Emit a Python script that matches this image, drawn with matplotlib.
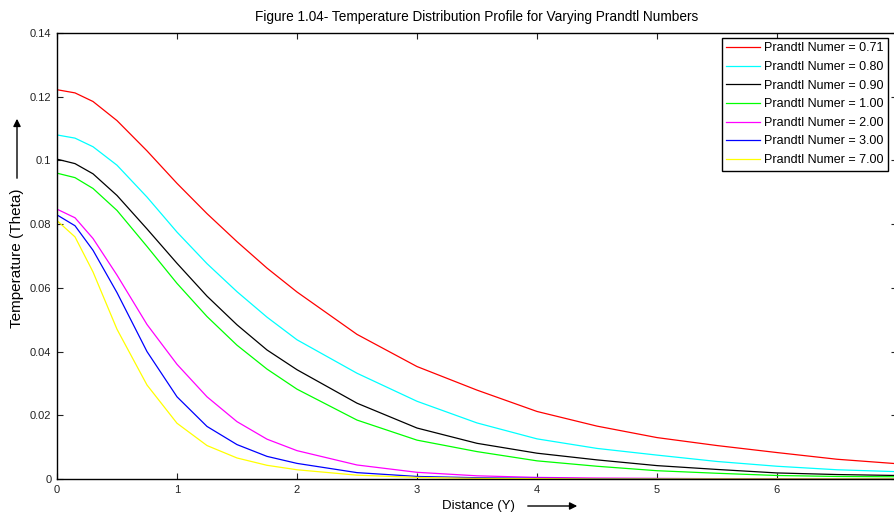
import matplotlib
matplotlib.use("Agg")
import matplotlib.pyplot as plt
from matplotlib.patches import FancyArrowPatch

plt.rcParams['font.family'] = ['Liberation Sans', 'DejaVu Sans']

# distance values (Y)
distance = [0, 0.15, 0.3, 0.5, 0.75, 1.0, 1.25, 1.5, 1.75, 2.0, 2.5, 3.0,
            3.5, 4.0, 4.5, 5.0, 5.5, 6.0, 6.5, 7.0]

# temperature (theta) for each Prandtl number
theta_071 = [0.1222, 0.1212, 0.1185, 0.1125, 0.1030, 0.0928, 0.0833, 0.0745,
             0.0662, 0.0587, 0.0454, 0.0353, 0.0279, 0.0212, 0.0166, 0.0130,
             0.0105, 0.0083, 0.0062, 0.0048]
theta_080 = [0.1080, 0.1070, 0.1043, 0.0985, 0.0885, 0.0775, 0.0676, 0.0588,
             0.0508, 0.0437, 0.0332, 0.0244, 0.0176, 0.0126, 0.0096, 0.0075,
             0.0055, 0.0040, 0.0029, 0.0023]
theta_090 = [0.1004, 0.0990, 0.0958, 0.0890, 0.0785, 0.0677, 0.0574, 0.0484,
             0.0405, 0.0343, 0.0238, 0.0160, 0.0112, 0.0081, 0.0060, 0.0042,
             0.0030, 0.0019, 0.0014, 0.0011]
theta_100 = [0.0960, 0.0946, 0.0912, 0.0843, 0.0730, 0.0614, 0.0510, 0.0420,
             0.0345, 0.0282, 0.0185, 0.0122, 0.0086, 0.0057, 0.0040, 0.0026,
             0.0018, 0.0011, 0.0008, 0.0007]
theta_200 = [0.0847, 0.0820, 0.0755, 0.0640, 0.0485, 0.0360, 0.0258, 0.0180,
             0.0125, 0.0089, 0.0044, 0.0021, 0.0010, 0.0005, 0.0003, 0.0002,
             0.0001, 0.0001, 0.0000, 0.0000]
theta_300 = [0.0829, 0.0795, 0.0718, 0.0585, 0.0400, 0.0258, 0.0165, 0.0108,
             0.0071, 0.0049, 0.0020, 0.0008, 0.0004, 0.0002, 0.0001, 0.0001,
             0.0000, 0.0000, 0.0000, 0.0000]
theta_700 = [0.0811, 0.0760, 0.0650, 0.0470, 0.0295, 0.0175, 0.0105, 0.0066,
             0.0043, 0.0029, 0.0012, 0.0005, 0.0002, 0.0001, 0.0000, 0.0000,
             0.0000, 0.0000, 0.0000, 0.0000]

prandtl = ['0.71', '0.80', '0.90', '1.00', '2.00', '3.00', '7.00']
series = [theta_071, theta_080, theta_090, theta_100, theta_200, theta_300, theta_700]
colors = ['#ff0000', '#00ffff', '#000000', '#00ff00', '#ff00ff', '#0000ff', '#ffff00']

y_ticks = [0, 0.02, 0.04, 0.06, 0.08, 0.1, 0.12, 0.14]
y_tick_labels = ['0', '0.02', '0.04', '0.06', '0.08', '0.1', '0.12', '0.14']
x_ticks = [0, 1, 2, 3, 4, 5, 6]

fig = plt.figure(figsize=(8.94, 5.15), dpi=100)
ax = fig.add_axes([57 / 894, 36 / 515, 840 / 894, 446 / 515])

for pr, theta, c in zip(prandtl, series, colors):
    ax.plot(distance, theta, color=c, linewidth=0.9, label='Prandtl Numer = ' + pr)

ax.set_xlim(0, 7)
ax.set_ylim(0, 0.14)
ax.set_xticks(x_ticks)
ax.set_xticklabels([str(t) for t in x_ticks])
ax.set_yticks(y_ticks)
ax.set_yticklabels(y_tick_labels)
ax.tick_params(direction='in', length=4, width=0.8, top=True, right=True,
               labelsize=8, colors='#222222', pad=4)
for s in ax.spines.values():
    s.set_linewidth(1.0)

fig.text(477 / 894, 1 - 17 / 515,
         'Figure 1.04- Temperature Distribution Profile for Varying Prandtl Numbers',
         ha='center', va='center', fontsize=9.8)

# axis labels with arrows
fig.text(478 / 894, 1 - 506 / 515, 'Distance (Y)', ha='center', va='center', fontsize=9.5)
fig.text(17 / 894, 1 - 258 / 515, 'Temperature (Theta)', ha='center', va='center',
         rotation=90, fontsize=11)
arrow = dict(arrowstyle='-|>', color='black', lw=1.0, mutation_scale=11)
fig.add_artist(FancyArrowPatch((525 / 894, 1 - 506 / 515), (580 / 894, 1 - 506 / 515),
                               transform=fig.transFigure, **arrow))
fig.add_artist(FancyArrowPatch((17 / 894, 1 - 181 / 515), (17 / 894, 1 - 116 / 515),
                               transform=fig.transFigure, **arrow))

leg = ax.legend(loc='upper right', bbox_to_anchor=(888 / 894, 1 - 38 / 515),
                bbox_transform=fig.transFigure, borderaxespad=0, fontsize=9,
                fancybox=False, framealpha=1, edgecolor='black', handlelength=2.7,
                labelspacing=0.53, borderpad=0.35, handletextpad=0.35)
leg.get_frame().set_linewidth(1.0)

fig.savefig('out.png', dpi=100)
